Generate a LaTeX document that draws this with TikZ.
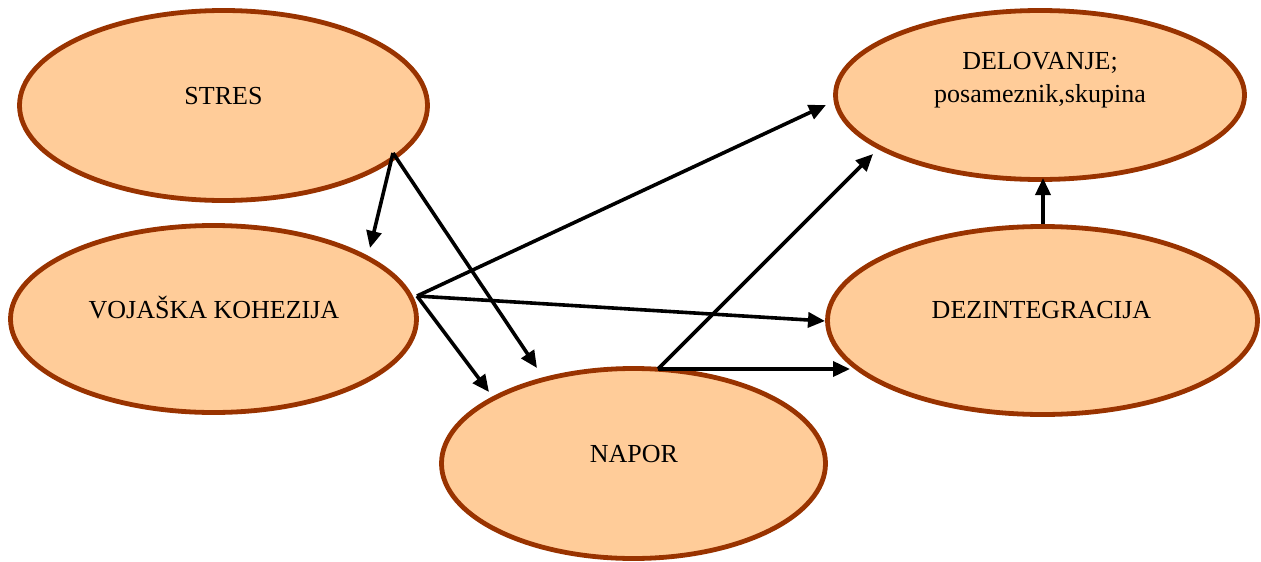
\documentclass[tikz,border=0pt]{standalone}
\usepackage{fontspec}
\setmainfont{Liberation Serif}
\usetikzlibrary{shapes.geometric,arrows.meta}
\definecolor{bubblefill}{HTML}{FFCC99}
\definecolor{bubbleline}{HTML}{993300}
\begin{document}
\begin{tikzpicture}[x=1pt,y=-1pt,
  bubble/.style={ellipse, draw=bubbleline, fill=bubblefill, line width=4.8pt, inner sep=0pt},
  caption/.style={font=\fontsize{26}{33}\selectfont, anchor=base, inner sep=0pt, align=center},
  link/.style={line width=3.6pt, -{Triangle[length=17pt,width=15pt]}}]
\useasboundingbox (0,0) rectangle (1261,562);

% the five concepts
\node[bubble, minimum width=408pt, minimum height=190pt] (stres) at (223.5,105.5) {};
\node[bubble, minimum width=406pt, minimum height=187pt] (voj)   at (213.5,319) {};
\node[bubble, minimum width=384pt, minimum height=190pt] (napor) at (633.5,463.5) {};
\node[bubble, minimum width=409pt, minimum height=169pt] (del)   at (1040,95) {};
\node[bubble, minimum width=430pt, minimum height=188pt] (dez)   at (1042.5,320.5) {};

% their captions
\node[caption] (stresT) at (223.5,104) {STRES};
\node[caption] (vojT)   at (214,318) {VOJAŠKA KOHEZIJA};
\node[caption] (naporT) at (634,462) {NAPOR};
\node[caption] (dezT)   at (1041.5,318) {DEZINTEGRACIJA};
\node[caption] (delT)   at (1040,102) {DELOVANJE;\\posameznik,skupina};

% where the links leave and reach the ellipses
\coordinate (stresOut) at (393,153);
\coordinate (vojOut)   at (417,296);
\coordinate (naporOut) at (658,369);
\coordinate (dezOut)   at (1043,224);
\coordinate (vojIn)    at (370,248);
\coordinate (naporInA) at (537,368);
\coordinate (naporInB) at (489,392);
\coordinate (delInA)   at (826,105);
\coordinate (delInB)   at (873,154);
\coordinate (delInC)   at (1043,178);
\coordinate (dezInA)   at (825,321);
\coordinate (dezInB)   at (850,369);

% links
\draw[link] (stresOut) -- (vojIn);
\draw[link] (stresOut) -- (naporInA);
\draw[link] (vojOut) -- (delInA);
\draw[link] (vojOut) -- (dezInA);
\draw[link] (vojOut) -- (naporInB);
\draw[link] (naporOut) -- (delInB);
\draw[link] (naporOut) -- (dezInB);
\draw[link] (dezOut) -- (delInC);
\end{tikzpicture}
\end{document}
